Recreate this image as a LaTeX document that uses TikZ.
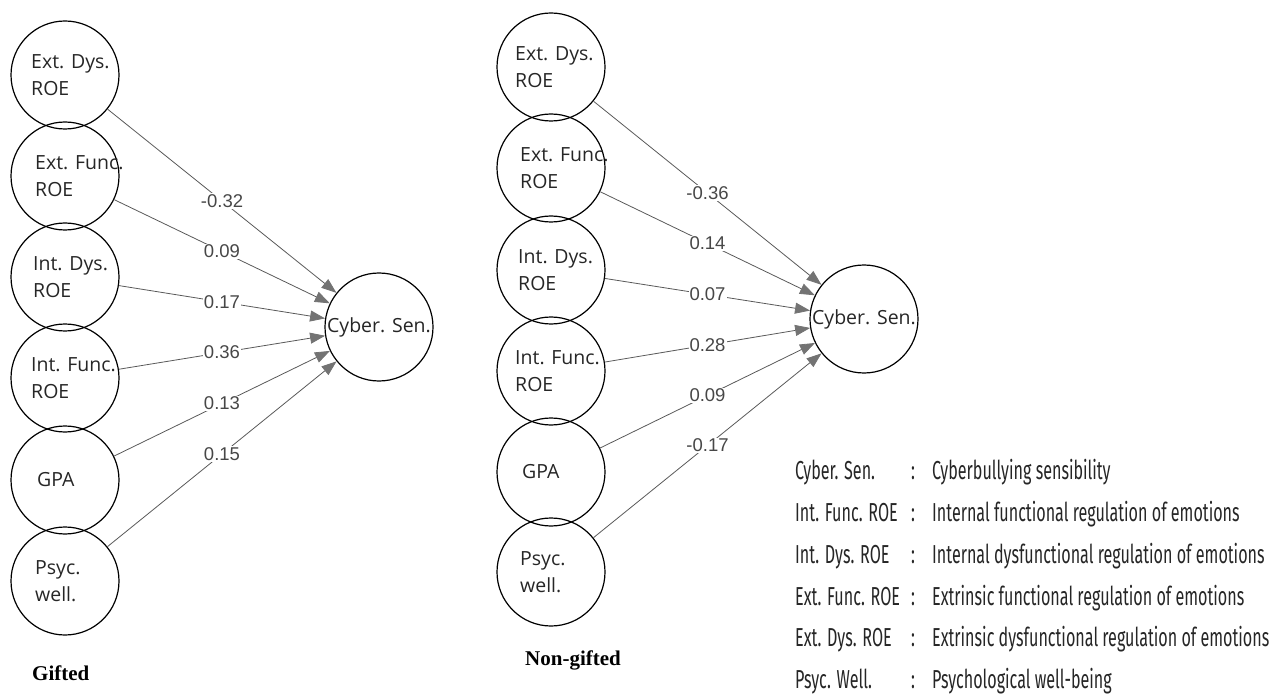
\documentclass[tikz,border=0pt]{standalone}
\usepackage{fontspec}
\setmainfont{Open Sans}
\newfontfamily\numfont{Liberation Sans}
\newfontfamily\titlefont{Liberation Serif}
\newfontfamily\legfont[FakeStretch=0.62]{Fira Sans}
\usetikzlibrary{arrows.meta}
\begin{document}
\begin{tikzpicture}[x=1pt,y=-1pt,
  var/.style={circle,draw=black,line width=1.2pt,minimum size=108pt,inner sep=0pt},
  vtxt/.style={anchor=west,align=left,font=\fontsize{19.5}{27}\selectfont,text=black!85,inner sep=0pt},
  ctxt/.style={font=\fontsize{19.5}{27}\selectfont,text=black!85,inner sep=0pt},
  pathline/.style={draw=black!65,line width=0.8pt,-{Triangle[length=15pt,width=11pt,color=black!55]}},
  coef/.style={fill=white,inner sep=1pt,font=\numfont\fontsize{18.5}{18}\selectfont,text=black!72},
  grouptitle/.style={anchor=base west,inner sep=0pt,font=\titlefont\bfseries\fontsize{21}{21}\selectfont},
  legtxt/.style={anchor=base west,inner sep=0pt,font=\legfont\fontsize{26}{26}\selectfont,text=black!85}
]
\useasboundingbox (0,0) rectangle (1278,695);

% ---------- Gifted ----------
\node[var] (g1) at (65,75) {};
\node[var] (g2) at (65,176) {};
\node[var] (g3) at (65,277) {};
\node[var] (g4) at (65,378) {};
\node[var] (g5) at (65,480) {};
\node[var] (g6) at (65,581) {};
\node[var] (gc) at (379,327) {};
\node[ctxt] (gct) at (gc.center) {Cyber. Sen.};

\node[vtxt] (g1t) at ([xshift=-34pt]g1.center) {Ext. Dys.\\ROE};
\node[vtxt] (g2t) at ([xshift=-30pt]g2.center) {Ext. Func.\\ROE};
\node[vtxt] (g3t) at ([xshift=-32pt]g3.center) {Int. Dys.\\ROE};
\node[vtxt] (g4t) at ([xshift=-34pt]g4.center) {Int. Func.\\ROE};
\node[vtxt] (g5t) at ([xshift=-28pt]g5.center) {GPA};
\node[vtxt] (g6t) at ([xshift=-30pt]g6.center) {Psyc.\\well.};

\draw[pathline] (g1) -- node[coef] {-0.32} (gc);
\draw[pathline] (g2) -- node[coef] {0.09} (gc);
\draw[pathline] (g3) -- node[coef] {0.17} (gc);
\draw[pathline] (g4) -- node[coef] {0.36} (gc);
\draw[pathline] (g5) -- node[coef] {0.13} (gc);
\draw[pathline] (g6) -- node[coef] {0.15} (gc);

\node[grouptitle] (gtitle) at (32,680) {Gifted};

% ---------- Non-gifted ----------
\node[var] (n1) at (551,67) {};
\node[var] (n2) at (551,168) {};
\node[var] (n3) at (551,270) {};
\node[var] (n4) at (551,371) {};
\node[var] (n5) at (551,472) {};
\node[var] (n6) at (551,572) {};
\node[var] (nc) at (864,319) {};
\node[ctxt] (nct) at (nc.center) {Cyber. Sen.};

\node[vtxt] (n1t) at ([xshift=-36pt]n1.center) {Ext. Dys.\\ROE};
\node[vtxt] (n2t) at ([xshift=-31pt]n2.center) {Ext. Func.\\ROE};
\node[vtxt] (n3t) at ([xshift=-33pt]n3.center) {Int. Dys.\\ROE};
\node[vtxt] (n4t) at ([xshift=-36pt]n4.center) {Int. Func.\\ROE};
\node[vtxt] (n5t) at ([xshift=-29pt]n5.center) {GPA};
\node[vtxt] (n6t) at ([xshift=-31pt]n6.center) {Psyc.\\well.};

\draw[pathline] (n1) -- node[coef] {-0.36} (nc);
\draw[pathline] (n2) -- node[coef] {0.14} (nc);
\draw[pathline] (n3) -- node[coef] {0.07} (nc);
\draw[pathline] (n4) -- node[coef] {0.28} (nc);
\draw[pathline] (n5) -- node[coef] {0.09} (nc);
\draw[pathline] (n6) -- node[coef] {-0.17} (nc);

\node[grouptitle] (ntitle) at (525,665) {Non-gifted};

% ---------- Legend ----------
\node[legtxt] (l1a) at (795,479) {Cyber. Sen.};
\node[legtxt] (l1b) at (911,479) {:};
\node[legtxt] (l1c) at (932,479) {Cyberbullying sensibility};
\node[legtxt] (l2a) at (795,521) {Int. Func. ROE};
\node[legtxt] (l2b) at (911,521) {:};
\node[legtxt] (l2c) at (932,521) {Internal functional regulation of emotions};
\node[legtxt] (l3a) at (795,563) {Int. Dys. ROE};
\node[legtxt] (l3b) at (911,563) {:};
\node[legtxt] (l3c) at (932,563) {Internal dysfunctional regulation of emotions};
\node[legtxt] (l4a) at (795,605) {Ext. Func. ROE};
\node[legtxt] (l4b) at (911,605) {:};
\node[legtxt] (l4c) at (932,605) {Extrinsic functional regulation of emotions};
\node[legtxt] (l5a) at (795,646) {Ext. Dys. ROE};
\node[legtxt] (l5b) at (911,646) {:};
\node[legtxt] (l5c) at (932,646) {Extrinsic dysfunctional regulation of emotions};
\node[legtxt] (l6a) at (795,688) {Psyc. Well.};
\node[legtxt] (l6b) at (911,688) {:};
\node[legtxt] (l6c) at (932,688) {Psychological well-being};
\end{tikzpicture}
\end{document}
